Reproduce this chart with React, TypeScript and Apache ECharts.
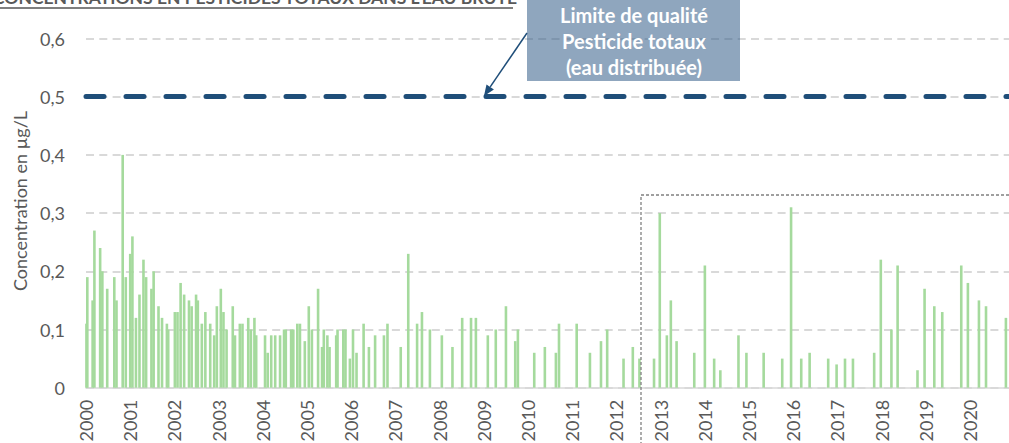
import React, { useEffect, useRef } from "react";
import * as echarts from "echarts";

// Sample dates expressed as decimal years
const sampleYears = [
  2000.01, 2000.03, 2000.15, 2000.19, 2000.32, 2000.37, 2000.48, 2000.64, 2000.69, 2000.83,
  2000.90, 2001.00, 2001.05, 2001.13, 2001.21, 2001.30, 2001.36, 2001.48, 2001.53, 2001.64,
  2001.72, 2001.83, 2001.86, 2002.01, 2002.07, 2002.14, 2002.22, 2002.33, 2002.39, 2002.49,
  2002.53, 2002.62, 2002.70, 2002.81, 2002.90, 2002.96, 2003.05, 2003.11, 2003.18, 2003.32,
  2003.37, 2003.48, 2003.54, 2003.67, 2003.73, 2003.81, 2003.85, 2004.05, 2004.11, 2004.19,
  2004.28, 2004.39, 2004.48, 2004.52, 2004.64, 2004.69, 2004.78, 2004.84, 2004.95, 2005.04,
  2005.11, 2005.25, 2005.34, 2005.38, 2005.46, 2005.51, 2005.66, 2005.69, 2005.82, 2005.87,
  2005.97, 2006.04, 2006.12, 2006.28, 2006.40, 2006.54, 2006.74, 2006.82, 2007.12, 2007.29,
  2007.49, 2007.60, 2007.78, 2008.05, 2008.29, 2008.51, 2008.71, 2008.82, 2009.09, 2009.27,
  2009.50, 2009.71, 2009.77, 2010.14, 2010.38, 2010.63, 2010.70, 2011.10, 2011.40, 2011.65,
  2011.79, 2012.16, 2012.37, 2012.52, 2012.85, 2012.98, 2013.14, 2013.23, 2013.36, 2013.76,
  2014.00, 2014.21, 2014.35, 2014.76, 2014.94, 2015.33, 2015.75, 2015.95, 2016.18, 2016.37,
  2016.79, 2016.98, 2017.17, 2017.35, 2017.83, 2017.98, 2018.22, 2018.36, 2018.81, 2018.97,
  2019.19, 2019.37, 2019.80, 2019.95, 2020.20, 2020.36, 2020.81,
];

// Total pesticide concentrations (µg/L)
const concentrations = [
  0.11, 0.19, 0.15, 0.27, 0.24, 0.20, 0.17, 0.19, 0.15, 0.40,
  0.19, 0.23, 0.26, 0.12, 0.16, 0.22, 0.19, 0.17, 0.20, 0.14,
  0.12, 0.11, 0.10, 0.13, 0.13, 0.18, 0.16, 0.15, 0.14, 0.16,
  0.15, 0.11, 0.13, 0.11, 0.09, 0.14, 0.17, 0.13, 0.10, 0.14,
  0.09, 0.11, 0.11, 0.12, 0.10, 0.12, 0.09, 0.09, 0.06, 0.09,
  0.09, 0.09, 0.10, 0.10, 0.10, 0.10, 0.11, 0.11, 0.08, 0.14,
  0.10, 0.17, 0.07, 0.10, 0.09, 0.07, 0.09, 0.10, 0.10, 0.10,
  0.05, 0.10, 0.06, 0.11, 0.07, 0.09, 0.09, 0.11, 0.07, 0.23,
  0.11, 0.13, 0.10, 0.09, 0.07, 0.12, 0.12, 0.12, 0.09, 0.10,
  0.14, 0.08, 0.10, 0.06, 0.07, 0.06, 0.11, 0.11, 0.06, 0.08,
  0.10, 0.05, 0.07, 0.05, 0.05, 0.30, 0.09, 0.15, 0.08, 0.06,
  0.21, 0.05, 0.03, 0.09, 0.06, 0.06, 0.05, 0.31, 0.05, 0.06,
  0.05, 0.04, 0.05, 0.05, 0.06, 0.22, 0.10, 0.21, 0.03, 0.17,
  0.14, 0.13, 0.21, 0.18, 0.15, 0.14, 0.12,
];

const yAxisTicks = [0, 0.1, 0.2, 0.3, 0.4, 0.5, 0.6];
const qualityLimit = 0.5;
const firstYear = 2000;
const lastAxisYear = 2020.88;

const titleText = "CONCENTRATIONS EN PESTICIDES TOTAUX DANS L'EAU BRUTE";
const yAxisTitle = "Concentration en µg/L";
const limitLabel = ["Limite de qualité", "Pesticide totaux", "(eau distribuée)"];

const FONT = "Lato, 'Open Sans', sans-serif";

export default function App() {
  const ref = useRef<HTMLDivElement>(null);

  useEffect(() => {
    document.body.style.margin = "0";
    if (!ref.current) return;
    const chart = echarts.init(ref.current, undefined, { renderer: "svg" });

    const data = sampleYears.map((x, i) => [x, concentrations[i]]);

    const tip: [number, number] = [484, 96];
    const start: [number, number] = [527, 33];
    const dx = start[0] - tip[0];
    const dy = start[1] - tip[1];
    const len = Math.sqrt(dx * dx + dy * dy);
    const ux = dx / len;
    const uy = dy / len;
    const headLen = 11;
    const headHalf = 4.5;
    const bx = tip[0] + ux * headLen;
    const by = tip[1] + uy * headLen;
    const p1: [number, number] = [bx - uy * headHalf, by + ux * headHalf];
    const p2: [number, number] = [bx + uy * headHalf, by - ux * headHalf];

    chart.setOption({
      animation: false,
      grid: {
        left: 86,
        right: 0,
        top: 38.5,
        bottom: 55.3,
        containLabel: false,
        outerBoundsMode: "none",
      },
      xAxis: {
        type: "value",
        min: firstYear,
        max: lastAxisYear,
        interval: 1,
        axisLine: { show: true, lineStyle: { color: "#D9D9D9", width: 1.5 } },
        axisTick: { show: false },
        splitLine: { show: false },
        axisLabel: {
          rotate: 90,
          margin: 12,
          color: "#595959",
          fontFamily: FONT,
          fontSize: 18,
          showMaxLabel: false,
          formatter: (v: number) =>
            Math.abs(v - Math.round(v)) < 1e-6 ? String(Math.round(v)) : "",
        },
      },
      yAxis: {
        type: "value",
        min: yAxisTicks[0],
        max: yAxisTicks[yAxisTicks.length - 1],
        interval: 0.1,
        axisLine: { show: false },
        axisTick: { show: false },
        axisLabel: {
          margin: 21,
          color: "#595959",
          fontFamily: FONT,
          fontSize: 18,
          formatter: (v: number) => (v === 0 ? "0" : v.toFixed(1).replace(".", ",")),
        },
        splitLine: {
          show: true,
          lineStyle: { color: "#D9D9D9", width: 1.8, type: [8, 5.3] },
        },
      },
      series: [
        {
          type: "bar",
          data,
          barWidth: 2.6,
          itemStyle: { color: "#A5DA9D" },
          markLine: {
            silent: true,
            symbol: ["none", "none"],
            label: { show: false },
            lineStyle: { color: "#1F4E79", width: 5, type: [18, 22], cap: "round" },
            data: [{ yAxis: qualityLimit }],
          },
        },
      ],
      graphic: [
        {
          type: "text",
          z: 10,
          x: -7,
          y: 6,
          style: {
            text: titleText,
            font: `bold 17.5px ${FONT}`,
            fill: "#595959",
            verticalAlign: "bottom",
          },
        },
        {
          type: "line",
          z: 10,
          shape: { x1: 0, y1: 8, x2: 513, y2: 8 },
          style: { stroke: "#7F7F7F", lineWidth: 2 },
        },
        {
          type: "text",
          z: 10,
          x: 20,
          y: 201,
          rotation: Math.PI / 2,
          style: {
            text: yAxisTitle,
            font: `18px ${FONT}`,
            fill: "#595959",
            align: "center",
            verticalAlign: "middle",
          },
        },
        {
          type: "rect",
          z: 10,
          shape: { x: 527, y: -2, width: 213, height: 83 },
          style: { fill: "rgba(51,93,137,0.55)" },
        },
        {
          type: "text",
          z: 11,
          x: 634,
          y: 41,
          style: {
            text: limitLabel.join("\n"),
            font: `bold 20px ${FONT}`,
            lineHeight: 26,
            fill: "#FFFFFF",
            align: "center",
            verticalAlign: "middle",
          },
        },
        {
          type: "line",
          z: 10,
          shape: { x1: start[0], y1: start[1], x2: bx, y2: by },
          style: { stroke: "#1F4E79", lineWidth: 1.5 },
        },
        {
          type: "polygon",
          z: 10,
          shape: { points: [tip, p1, p2] },
          style: { fill: "#1F4E79" },
        },
        {
          type: "rect",
          z: 10,
          shape: { x: 641, y: 195, width: 420, height: 300 },
          style: { fill: "none", stroke: "#808080", lineWidth: 1.3, lineDash: [3, 2] },
        },
      ],
    });

    return () => chart.dispose();
  }, []);

  return <div ref={ref} style={{ width: 1009, height: 443 }} />;
}
